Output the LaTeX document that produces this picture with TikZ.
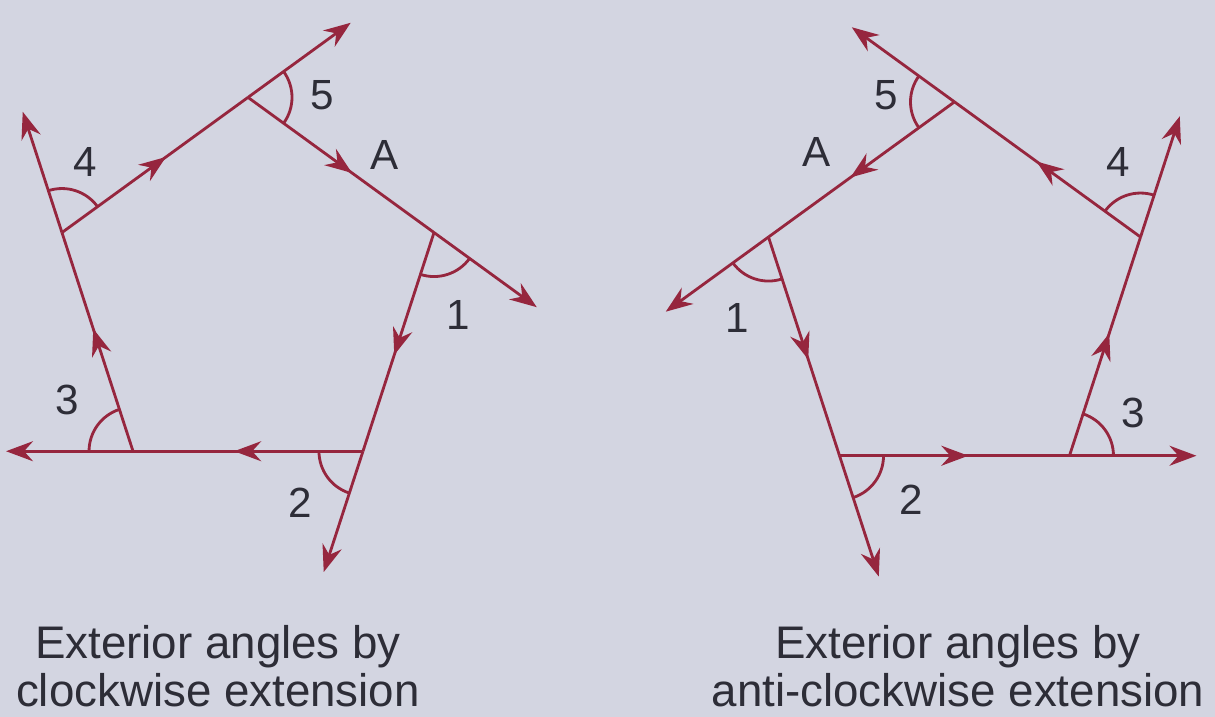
\documentclass[tikz,border=0pt]{standalone}
\usepackage{fontspec}
\setmainfont{Liberation Sans}
\usetikzlibrary{arrows.meta, calc, angles, decorations.markings, positioning}
\definecolor{linered}{RGB}{150,38,62}
\definecolor{pagebg}{RGB}{211,213,225}
\definecolor{inkgray}{RGB}{45,45,55}

\begin{document}
\begin{tikzpicture}[
    side/.style={linered, line width=0.8pt},
    ext/.style={side, -{Stealth[length=2.7mm, width=2.0mm, inset=0.9mm]}},
    midarrow/.style={postaction={decorate}, decoration={markings, mark=at position 0.56 with {\arrow{Stealth[length=2.7mm, width=2.0mm, inset=0.9mm]}}}},
    extangle/.style={draw=linered, line width=0.8pt, angle radius=0.44cm},
    num/.style={font=\fontsize{12}{14}\selectfont, text=inkgray},
    caption/.style={font=\fontsize{13}{13.6}\selectfont, text=inkgray, align=center}
]

% Page
\useasboundingbox (0,0) rectangle (12.15,-7.17);
\fill[pagebg] (0,0) rectangle (12.15,-7.17);

% Clockwise pentagon
\coordinate (lc) at (2.48,-2.93);
\foreach \i/\a in {1/18, 2/-54, 3/-126, 4/162, 5/90}
  \coordinate (l\i) at ($(lc)+(\a:1.956)$);
\foreach \j/\i/\k in {5/1/2, 1/2/3, 2/3/4, 3/4/5, 4/5/1} {
  \coordinate (le\i) at ($(l\i)!-1.27cm!(l\j)$);
  \draw[side, midarrow] (l\j) -- (l\i);
  \draw[ext] (l\i) -- (le\i);
  \pic[extangle] {angle = l\k--l\i--le\i};
}

\node (ln1) [num] at ($(l1)+(0.24,-0.82)$) {1};
\node (ln2) [num] at ($(l2)+(-0.63,-0.52)$) {2};
\node (ln3) [num] at ($(l3)+(-0.66,0.51)$) {3};
\node (ln4) [num] at ($(l4)+(0.23,0.71)$) {4};
\node (ln5) [num] at ($(l5)+(0.74,0.02)$) {5};
\node (lA) [num] at ($(l5)+(1.37,-0.58)$) {A};

% Anti-clockwise pentagon
\coordinate (rc) at (9.545,-2.975);
\foreach \i/\a in {1/162, 2/234, 3/-54, 4/18, 5/90}
  \coordinate (r\i) at ($(rc)+(\a:1.956)$);
\foreach \j/\i/\k in {5/1/2, 1/2/3, 2/3/4, 3/4/5, 4/5/1} {
  \coordinate (re\i) at ($(r\i)!-1.27cm!(r\j)$);
  \draw[side, midarrow] (r\j) -- (r\i);
  \draw[ext] (r\i) -- (re\i);
  \pic[extangle] {angle = re\i--r\i--r\k};
}

\node (rn1) [num] at ($(r1)+(-0.31,-0.81)$) {1};
\node (rn2) [num] at ($(r2)+(0.72,-0.44)$) {2};
\node (rn3) [num] at ($(r3)+(0.64,0.43)$) {3};
\node (rn4) [num] at ($(r4)+(-0.22,0.75)$) {4};
\node (rn5) [num] at ($(r5)+(-0.68,0.07)$) {5};
\node (rA) [num] at ($(r5)+(-1.38,-0.50)$) {A};

% Captions
\node (lcap) [caption] at (2.18,-6.66) {Exterior angles by\\clockwise extension};
\node (rcap) [caption] at (9.58,-6.66) {Exterior angles by\\anti-clockwise extension};

\end{tikzpicture}
\end{document}
